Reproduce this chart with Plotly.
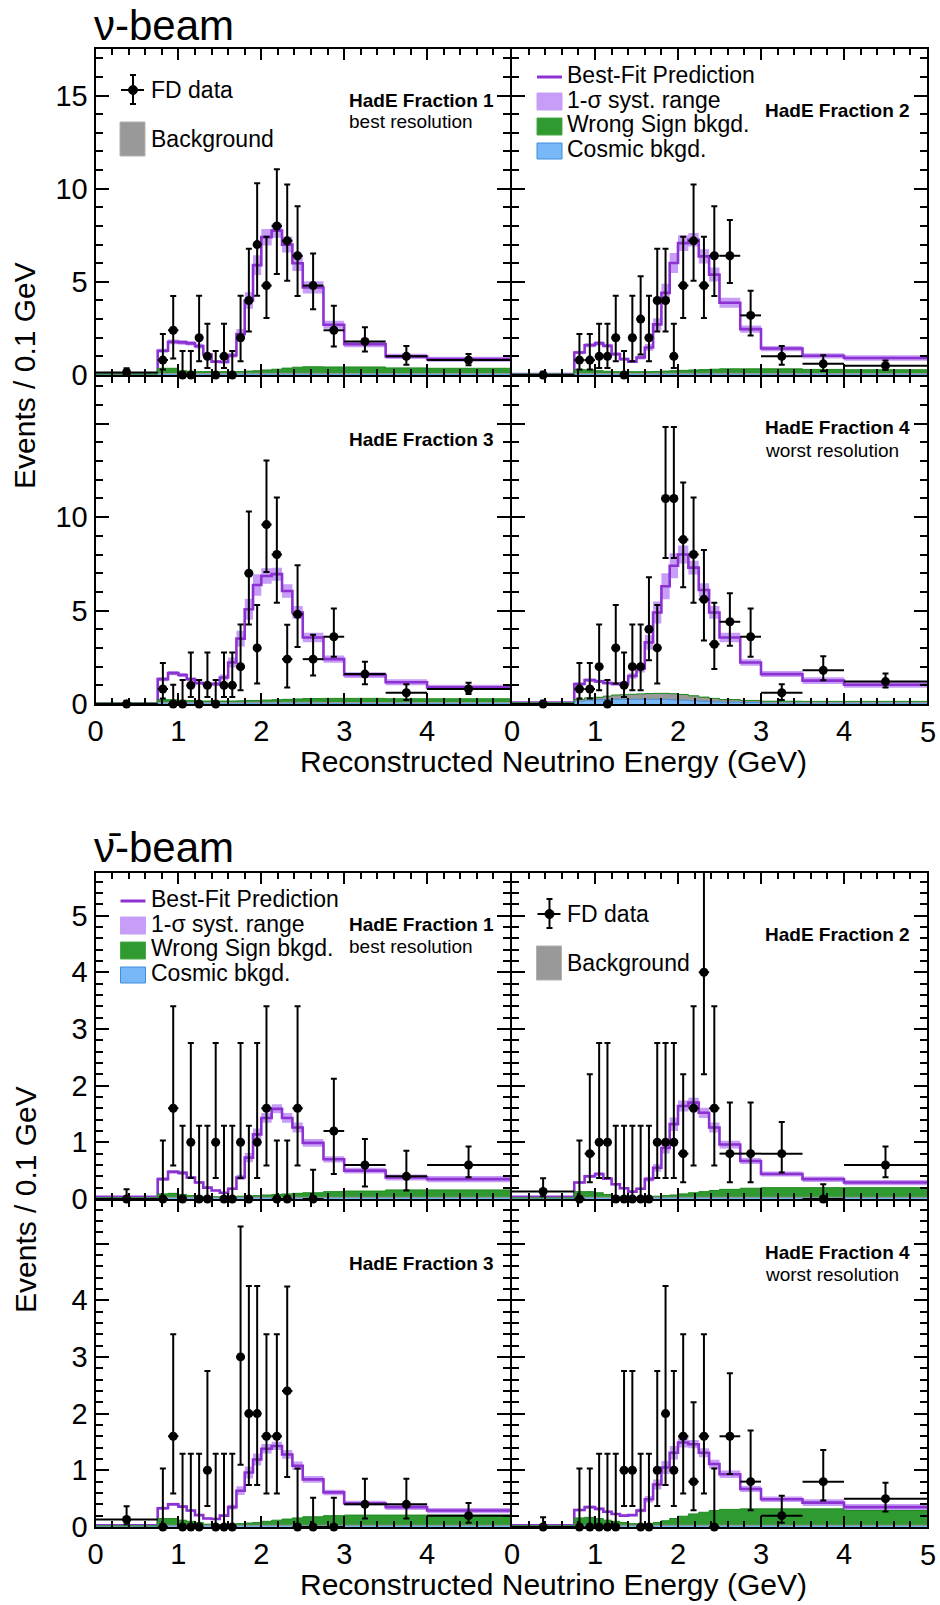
import plotly.graph_objects as go

W, H = 940, 1605
FONT = "Liberation Sans, Arial, Helvetica, sans-serif"


def px(x):
    return x / W


def py(y):
    return 1 - y / H


# Reconstructed-energy bin edges (GeV)
EDGES = [0, 0.75, 0.875, 1.0, 1.1, 1.2, 1.3, 1.4, 1.5, 1.6, 1.7, 1.8, 1.9,
         2.0, 2.125, 2.25, 2.375, 2.5, 2.75, 3.0, 3.5, 4.0, 5.0]

# Feldman-Cousins 68.27% intervals for n observed events (zero background)
FC_LO = [0.00, 0.37, 0.74, 1.10, 2.34, 2.75, 3.82, 4.25, 5.30, 6.33, 6.78,
         7.81, 8.83, 9.28, 10.30, 11.32, 12.33]
FC_HI = [1.29, 2.75, 4.25, 5.30, 6.78, 7.81, 9.28, 10.30, 11.32, 12.79, 13.81,
         14.82, 16.29, 17.30, 18.32, 19.32, 20.80]

# Relative 1-sigma systematic band, per bin
SYST_FRAC = [0.15, 0.08, 0.07, 0.07, 0.07, 0.08, 0.09, 0.10, 0.11, 0.12, 0.12,
             0.11, 0.09, 0.06, 0.05, 0.06, 0.07, 0.07, 0.08, 0.10, 0.14, 0.16]

# ---------------- neutrino beam ----------------
NU_DATA_1 = [1, 1, 3, 0, 0, 2, 1, 0, 1, 0, 2, 4, 7, 6, 10, 9, 8, 12, 6, 9, 5, 8]
NU_DATA_2 = [0, 1, 1, 1, 1, 2, 0, 2, 3, 2, 4, 4, 1, 6, 9, 6, 8, 16, 8, 5, 3, 5]
NU_DATA_3 = [0, 1, 0, 0, 1, 0, 1, 0, 1, 1, 2, 7, 3, 12, 10, 3, 6, 6, 9, 8, 3, 8]
NU_DATA_4 = [0, 1, 1, 2, 0, 3, 1, 2, 2, 4, 3, 11, 11, 11, 10, 7, 4, 11, 9, 3, 9, 12]

NU_PRED_1 = [0.03, 1.30, 1.78, 1.75, 1.70, 1.55, 1.10, 0.72, 0.70, 1.05, 2.20,
             4.00, 5.90, 7.40, 7.75, 7.00, 6.00, 4.70, 2.70, 1.65, 1.00, 0.85]
NU_PRED_2 = [0.05, 1.21, 1.60, 1.70, 1.57, 1.12, 0.85, 0.71, 0.94, 1.48, 2.72,
             4.41, 6.01, 7.08, 7.26, 6.37, 5.39, 3.88, 2.46, 1.42, 1.03, 0.91]
NU_PRED_3 = [0.03, 1.33, 1.65, 1.55, 1.33, 1.12, 1.07, 1.07, 1.42, 2.22, 3.50,
             5.07, 6.37, 6.85, 6.95, 6.05, 4.90, 3.56, 2.40, 1.55, 1.16, 0.89]
NU_PRED_4 = [0.08, 1.07, 1.28, 1.21, 1.12, 1.07, 1.10, 1.50, 1.90, 3.30, 4.90,
             6.30, 7.40, 8.00, 7.30, 6.10, 4.90, 3.56, 2.22, 1.60, 1.25, 1.03]

NU_COSMIC_1 = [0.05, 0.06, 0.06, 0.06, 0.06, 0.06, 0.06, 0.06, 0.06, 0.06, 0.06,
               0.06, 0.06, 0.06, 0.06, 0.06, 0.06, 0.06, 0.06, 0.06, 0.06, 0.06]
NU_COSMIC_2 = [0.05, 0.06, 0.06, 0.06, 0.06, 0.06, 0.06, 0.06, 0.06, 0.06, 0.06,
               0.06, 0.06, 0.06, 0.06, 0.06, 0.06, 0.06, 0.06, 0.06, 0.06, 0.06]
NU_COSMIC_3 = [0.05, 0.06, 0.06, 0.06, 0.06, 0.06, 0.06, 0.06, 0.06, 0.06, 0.06,
               0.06, 0.06, 0.06, 0.06, 0.06, 0.06, 0.06, 0.06, 0.06, 0.06, 0.06]
NU_COSMIC_4 = [0.06, 0.15, 0.20, 0.22, 0.24, 0.25, 0.25, 0.25, 0.25, 0.25, 0.25,
               0.25, 0.22, 0.20, 0.17, 0.14, 0.12, 0.10, 0.08, 0.06, 0.06, 0.06]

NU_OTHER_1 = [0.0, 0.02, 0.02, 0.02, 0.02, 0.02, 0.02, 0.02, 0.02, 0.02, 0.03,
              0.03, 0.03, 0.03, 0.03, 0.03, 0.03, 0.03, 0.02, 0.02, 0.02, 0.02]
NU_OTHER_2 = [0.0, 0.02, 0.02, 0.02, 0.02, 0.02, 0.02, 0.02, 0.02, 0.02, 0.03,
              0.03, 0.03, 0.03, 0.03, 0.03, 0.03, 0.03, 0.02, 0.02, 0.02, 0.02]
NU_OTHER_3 = [0.0, 0.02, 0.02, 0.02, 0.02, 0.02, 0.02, 0.02, 0.02, 0.02, 0.03,
              0.03, 0.03, 0.03, 0.03, 0.03, 0.03, 0.03, 0.02, 0.02, 0.02, 0.02]
NU_OTHER_4 = [0.0, 0.05, 0.08, 0.10, 0.15, 0.20, 0.22, 0.24, 0.26, 0.28, 0.28,
              0.28, 0.28, 0.26, 0.22, 0.18, 0.12, 0.08, 0.05, 0.03, 0.02, 0.02]

NU_WS_1 = [0.0, 0.28, 0.28, 0.15, 0.12, 0.10, 0.10, 0.10, 0.10, 0.10, 0.10,
           0.12, 0.14, 0.18, 0.22, 0.28, 0.33, 0.35, 0.35, 0.35, 0.30, 0.28]
NU_WS_2 = [0.0, 0.22, 0.20, 0.15, 0.12, 0.10, 0.10, 0.10, 0.10, 0.10, 0.10,
           0.12, 0.14, 0.16, 0.18, 0.20, 0.22, 0.24, 0.25, 0.25, 0.22, 0.20]
NU_WS_3 = [0.0, 0.15, 0.15, 0.12, 0.10, 0.08, 0.08, 0.08, 0.08, 0.08, 0.08,
           0.10, 0.10, 0.12, 0.14, 0.16, 0.18, 0.20, 0.22, 0.22, 0.20, 0.20]
NU_WS_4 = [0.0, 0.05, 0.05, 0.04, 0.03, 0.03, 0.03, 0.03, 0.03, 0.03, 0.04,
           0.04, 0.05, 0.05, 0.05, 0.05, 0.06, 0.06, 0.06, 0.06, 0.06, 0.06]

# ---------------- antineutrino beam ----------------
NUBAR_DATA_1 = [0, 0, 2, 0, 1, 0, 0, 1, 0, 0, 1, 0, 1, 2, 0, 0, 2, 0, 3, 3, 2, 6]
NUBAR_DATA_2 = [1, 0, 1, 1, 1, 0, 0, 0, 0, 0, 1, 1, 1, 1, 2, 5, 2, 2, 2, 4, 0, 6]
NUBAR_DATA_3 = [1, 0, 2, 0, 0, 0, 1, 0, 0, 0, 3, 2, 2, 2, 2, 3, 0, 0, 0, 2, 2, 2]
NUBAR_DATA_4 = [0, 0, 0, 0, 0, 0, 1, 1, 0, 0, 1, 2, 1, 2, 1, 2, 0, 4, 2, 1, 4, 5]

NUBAR_PRED_1 = [0.04, 0.35, 0.48, 0.46, 0.38, 0.29, 0.20, 0.15, 0.11, 0.18, 0.38,
                0.73, 1.14, 1.43, 1.59, 1.43, 1.26, 0.99, 0.70, 0.50, 0.38, 0.35]
NUBAR_PRED_2 = [0.04, 0.29, 0.40, 0.44, 0.36, 0.26, 0.19, 0.13, 0.18, 0.35, 0.55,
                0.90, 1.32, 1.64, 1.70, 1.52, 1.26, 0.96, 0.67, 0.44, 0.35, 0.29]
NUBAR_PRED_3 = [0.03, 0.33, 0.40, 0.36, 0.29, 0.21, 0.15, 0.14, 0.20, 0.35, 0.64,
                0.96, 1.19, 1.38, 1.43, 1.28, 1.08, 0.84, 0.61, 0.42, 0.35, 0.29]
NUBAR_PRED_4 = [0.03, 0.30, 0.35, 0.32, 0.27, 0.23, 0.20, 0.21, 0.29, 0.49, 0.75,
                1.05, 1.31, 1.49, 1.46, 1.31, 1.11, 0.93, 0.67, 0.49, 0.43, 0.35]

NUBAR_COSMIC = [0.02, 0.025, 0.025, 0.025, 0.025, 0.025, 0.025, 0.025, 0.025, 0.025, 0.025,
                0.025, 0.025, 0.025, 0.025, 0.025, 0.025, 0.025, 0.025, 0.025, 0.025, 0.025]
NUBAR_OTHER = [0.0, 0.005, 0.005, 0.005, 0.005, 0.005, 0.005, 0.005, 0.005, 0.005, 0.005,
               0.005, 0.005, 0.005, 0.005, 0.005, 0.005, 0.005, 0.005, 0.005, 0.005, 0.005]

NUBAR_WS_1 = [0.0, 0.06, 0.07, 0.05, 0.03, 0.02, 0.01, 0.01, 0.01, 0.01, 0.02,
              0.02, 0.03, 0.04, 0.05, 0.06, 0.07, 0.08, 0.10, 0.11, 0.13, 0.13]
NUBAR_WS_2 = [0.0, 0.10, 0.10, 0.08, 0.05, 0.02, 0.01, 0.0, 0.0, 0.01, 0.02,
              0.03, 0.04, 0.06, 0.08, 0.10, 0.12, 0.14, 0.16, 0.17, 0.17, 0.17]
NUBAR_WS_3 = [0.0, 0.12, 0.12, 0.09, 0.07, 0.05, 0.02, 0.01, 0.01, 0.02, 0.03,
              0.04, 0.05, 0.07, 0.09, 0.11, 0.13, 0.15, 0.17, 0.18, 0.18, 0.18]
NUBAR_WS_4 = [0.0, 0.13, 0.14, 0.12, 0.09, 0.07, 0.05, 0.03, 0.02, 0.03, 0.05,
              0.08, 0.12, 0.16, 0.20, 0.23, 0.26, 0.28, 0.29, 0.29, 0.29, 0.26]

HADE_LABELS = ["HadE Fraction 1", "HadE Fraction 2", "HadE Fraction 3", "HadE Fraction 4"]
HADE_NOTES = ["best resolution", None, None, "worst resolution"]

# colours
C_LINE = "#8C32D2"
C_BAND = "#C89DF7"
C_WS = "#2F9A2F"
C_WS_EDGE = "#1F8A1F"
C_COS = "#78B8F6"
C_COS_EDGE = "#3F8EDB"
C_BKG = "#999999"

# panel frames in page pixels: (left, right) and (top, bottom)
XL = (95.5, 510.0)
XR = (512.0, 927.0)
ROWS = [(49.0, 375.0), (377.0, 704.0), (873.0, 1199.0), (1201.0, 1527.0)]

PANELS = [
    # (data, pred, cosmic, other, ws, xcols, row, ymax)
    (NU_DATA_1, NU_PRED_1, NU_COSMIC_1, NU_OTHER_1, NU_WS_1, XL, 0, 17.5),
    (NU_DATA_2, NU_PRED_2, NU_COSMIC_2, NU_OTHER_2, NU_WS_2, XR, 0, 17.5),
    (NU_DATA_3, NU_PRED_3, NU_COSMIC_3, NU_OTHER_3, NU_WS_3, XL, 1, 17.5),
    (NU_DATA_4, NU_PRED_4, NU_COSMIC_4, NU_OTHER_4, NU_WS_4, XR, 1, 17.5),
    (NUBAR_DATA_1, NUBAR_PRED_1, NUBAR_COSMIC, NUBAR_OTHER, NUBAR_WS_1, XL, 2, 5.75),
    (NUBAR_DATA_2, NUBAR_PRED_2, NUBAR_COSMIC, NUBAR_OTHER, NUBAR_WS_2, XR, 2, 5.75),
    (NUBAR_DATA_3, NUBAR_PRED_3, NUBAR_COSMIC, NUBAR_OTHER, NUBAR_WS_3, XL, 3, 5.75),
    (NUBAR_DATA_4, NUBAR_PRED_4, NUBAR_COSMIC, NUBAR_OTHER, NUBAR_WS_4, XR, 3, 5.75),
]

widths = [b - a for a, b in zip(EDGES[:-1], EDGES[1:])]
centers = [(a + b) / 2 for a, b in zip(EDGES[:-1], EDGES[1:])]
norm = [0.1 / w for w in widths]  # events per 0.1 GeV

TICK_FS = 29


def step(vals):
    return vals + [vals[-1]]


fig = go.Figure()
layout = dict(
    width=W, height=H, margin=dict(l=0, r=0, t=0, b=0, autoexpand=False),
    paper_bgcolor="white", plot_bgcolor="white", showlegend=False,
    font=dict(family=FONT, color="black"),
)
annotations = []
shapes = []

for i, (data, pred, cos, oth, ws, xcols, row, ymax) in enumerate(PANELS):
    k = i + 1
    xa = "x" if k == 1 else f"x{k}"
    ya = "y" if k == 1 else f"y{k}"
    top, bot = ROWS[row]

    band_lo = [p * (1 - f) for p, f in zip(pred, SYST_FRAC)]
    band_hi = [p * (1 + f) for p, f in zip(pred, SYST_FRAC)]
    fig.add_trace(go.Scatter(x=EDGES, y=step(band_lo), mode="lines",
                             line=dict(shape="hv", width=0, color=C_BAND),
                             xaxis=xa, yaxis=ya, hoverinfo="skip"))
    fig.add_trace(go.Scatter(x=EDGES, y=step(band_hi), mode="lines", fill="tonexty",
                             fillcolor=C_BAND, line=dict(shape="hv", width=0, color=C_BAND),
                             xaxis=xa, yaxis=ya, hoverinfo="skip"))
    fig.add_trace(go.Scatter(x=EDGES, y=step(pred), mode="lines",
                             line=dict(shape="hv", width=2.6, color=C_LINE),
                             xaxis=xa, yaxis=ya, hoverinfo="skip"))

    # stacked backgrounds: cosmic, other, wrong-sign
    for vals, fc, lc in ((cos, C_COS, C_COS_EDGE), (oth, C_BKG, C_BKG), (ws, C_WS, C_WS_EDGE)):
        fig.add_trace(go.Scatter(x=EDGES, y=step(vals), mode="lines", stackgroup=f"bkg{k}",
                                 fillcolor=fc, line=dict(shape="hv", width=1, color=lc),
                                 xaxis=xa, yaxis=ya, hoverinfo="skip"))

    yv = [n * s for n, s in zip(data, norm)]
    up = [FC_HI[n] * s - v for n, s, v in zip(data, norm, yv)]
    dn = [v - FC_LO[n] * s for n, s, v in zip(data, norm, yv)]
    half = [w / 2 for w in widths]
    fig.add_trace(go.Scatter(
        x=centers, y=yv, mode="markers", marker=dict(size=2, color="rgba(0,0,0,0)"),
        error_y=dict(type="data", array=up, arrayminus=dn, color="black", thickness=2, width=3),
        error_x=dict(type="data", array=half, color="black", thickness=2, width=0),
        xaxis=xa, yaxis=ya, hoverinfo="skip", cliponaxis=True))
    fig.add_trace(go.Scatter(
        x=centers, y=yv, mode="markers", marker=dict(size=9, color="black"),
        xaxis=xa, yaxis=ya, hoverinfo="skip", cliponaxis=False))

    bottom_row = row in (1, 3)
    left_col = xcols is XL
    if bottom_row:
        xt = ["0", "1", "2", "3", "4", ""]
    else:
        xt = [""] * 6
    layout[f"xaxis{k}" if k > 1 else "xaxis"] = dict(
        domain=[px(xcols[0]), px(xcols[1])], anchor=ya, range=[0, 5],
        tickmode="array", tickvals=[0, 1, 2, 3, 4, 5], ticktext=xt,
        ticks="inside", ticklen=11, tickwidth=2, tickcolor="black",
        minor=dict(tickmode="linear", tick0=0, dtick=0.2, ticks="inside",
                   ticklen=6, tickwidth=2, tickcolor="black"),
        showline=True, linewidth=2, linecolor="black", mirror="allticks",
        showgrid=False, zeroline=False, tickfont=dict(size=TICK_FS, family=FONT),
        automargin=False, fixedrange=True,
    )
    if bottom_row and not left_col:
        # last energy label at the right end of the lower-right panel
        annotations.append(dict(x=px(928), y=py(bot + 27.5), xref="paper", yref="paper",
                                text="5", showarrow=False, xanchor="center",
                                yanchor="middle",
                                font=dict(size=TICK_FS, family=FONT, color="black")))
    if ymax > 10:
        yvals = [0, 5, 10, 15]
        ytxt = ["0", "5", "10", "15"] if row == 0 else ["0", "5", "10", ""]
        ydt = 1
    else:
        yvals = [0, 1, 2, 3, 4, 5]
        ytxt = ["0", "1", "2", "3", "4", "5"] if row == 2 else ["0", "1", "2", "3", "4", ""]
        ydt = 0.2
    if not left_col:
        ytxt = [""] * len(yvals)
    layout[f"yaxis{k}" if k > 1 else "yaxis"] = dict(
        domain=[py(bot), py(top)], anchor=xa, range=[0, ymax],
        tickmode="array", tickvals=yvals, ticktext=ytxt,
        ticks="inside", ticklen=13, tickwidth=2, tickcolor="black",
        minor=dict(tickmode="linear", tick0=0, dtick=ydt, ticks="inside",
                   ticklen=7, tickwidth=2, tickcolor="black"),
        showline=True, linewidth=2, linecolor="black", mirror="allticks",
        showgrid=False, zeroline=False, tickfont=dict(size=TICK_FS, family=FONT),
        automargin=False, fixedrange=True,
    )

    # HadE fraction label
    x0 = xcols[0] - 1
    y0 = top - 1
    lab = HADE_LABELS[i % 4]
    note = HADE_NOTES[i % 4]
    if note:
        annotations.append(dict(x=px(x0 + 252), y=py(y0 + 52), xref="paper", yref="paper",
                                text=f"<b>{lab}</b>", showarrow=False, xanchor="left",
                                yanchor="middle", font=dict(size=19, family=FONT)))
        annotations.append(dict(x=px(x0 + 252), y=py(y0 + 74), xref="paper", yref="paper",
                                text=note, showarrow=False, xanchor="left",
                                yanchor="middle", font=dict(size=19, family=FONT)))
    else:
        annotations.append(dict(x=px(x0 + 252), y=py(y0 + 63), xref="paper", yref="paper",
                                text=f"<b>{lab}</b>", showarrow=False, xanchor="left",
                                yanchor="middle", font=dict(size=19, family=FONT)))


def text(x, y, s, size=23, anchor="left", angle=0, vanchor="middle"):
    annotations.append(dict(x=px(x), y=py(y), xref="paper", yref="paper", text=s,
                            showarrow=False, xanchor=anchor, yanchor=vanchor,
                            textangle=angle,
                            font=dict(size=size, family=FONT, color="black")))


def rect(xa, xb, ya, yb, fill, edge):
    shapes.append(dict(type="rect", xref="paper", yref="paper", x0=px(xa), x1=px(xb),
                       y0=py(yb), y1=py(ya), fillcolor=fill, line=dict(color=edge, width=1)))


def seg(xa, ya, xb, yb, color="black", width=2):
    shapes.append(dict(type="line", xref="paper", yref="paper", x0=px(xa), y0=py(ya),
                       x1=px(xb), y1=py(yb), line=dict(color=color, width=width)))


def data_legend(x0, y0):
    seg(x0 + 26.5, y0 + 42, x0 + 49.5, y0 + 42)
    seg(x0 + 38.5, y0 + 27, x0 + 38.5, y0 + 56)
    seg(x0 + 35.5, y0 + 27, x0 + 41.5, y0 + 27)
    seg(x0 + 35.5, y0 + 56, x0 + 41.5, y0 + 56)
    shapes.append(dict(type="circle", xref="paper", yref="paper",
                       x0=px(x0 + 34), x1=px(x0 + 43), y0=py(y0 + 46.5), y1=py(y0 + 37.5),
                       fillcolor="black", line=dict(color="black", width=1)))
    text(x0 + 54, y0 + 42, "FD data")
    rect(x0 + 25.5, x0 + 50.5, y0 + 74, y0 + 108, C_BKG, "#b0b0b0")
    text(x0 + 54, y0 + 91, "Background")


def pred_legend(x0, y0):
    seg(x0 + 26, y0 + 29, x0 + 51, y0 + 29, C_LINE, 3)
    text(x0 + 54, y0 + 27, "Best-Fit Prediction")
    rect(x0 + 26, x0 + 51, y0 + 45, y0 + 62, C_BAND, C_BAND)
    text(x0 + 54, y0 + 52, "1-σ syst. range")
    rect(x0 + 26, x0 + 51, y0 + 70, y0 + 87, C_WS, "#4aa84a")
    text(x0 + 54, y0 + 76, "Wrong Sign bkgd.")
    rect(x0 + 26, x0 + 51, y0 + 95, y0 + 111, C_COS, C_COS_EDGE)
    text(x0 + 54, y0 + 101, "Cosmic bkgd.")


data_legend(94.5, 48)
pred_legend(511, 48)
pred_legend(94.5, 872)
data_legend(511, 872)

# section titles
text(92, 0, "ν-beam", size=42, vanchor="top")
text(92, 822, "ν̄-beam", size=42, vanchor="top")

# axis titles
for yc, xt_y in ((376, 762), (1200, 1584)):
    text(553, xt_y, "Reconstructed Neutrino Energy (GeV)", size=30, anchor="center")
    text(25, yc, "Events / 0.1 GeV", size=30, anchor="center", angle=-90)

layout["annotations"] = annotations
layout["shapes"] = shapes
fig.update_layout(**layout)
fig.write_html("out.html")
